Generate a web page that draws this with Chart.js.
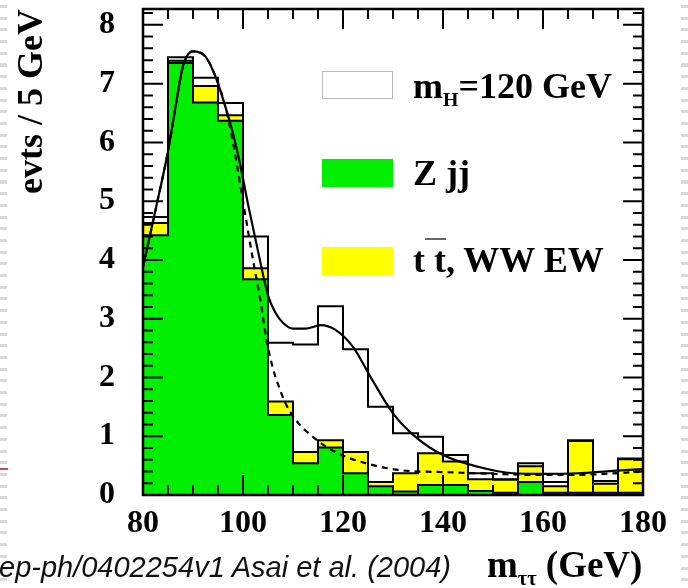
<!DOCTYPE html>
<html>
<head>
<meta charset="utf-8">
<title>m_tautau, evts / 5 GeV</title>
<script src="https://cdn.jsdelivr.net/npm/chart.js@4.4.1/dist/chart.umd.min.js"></script>
<style>
  html, body { margin: 0; padding: 0; background: #fff; }
  #page { position: relative; width: 688px; height: 588px; overflow: hidden; }
  #mass { position: absolute; left: 0; top: 0; }
  .rim { position: absolute; top: 0; width: 7px; height: 588px;
         background: repeating-linear-gradient(to bottom, transparent 0 5px, #dadada 5px 8px, transparent 8px 11.7px); }
  .lbl { position: absolute; white-space: nowrap; line-height: 1; color: #000;
         font-family: "Liberation Serif", "Times New Roman", serif; font-weight: bold; }
  .lbl sub { font-size: 0.55em; vertical-align: -0.38em; line-height: 0; }
  .box { position: absolute; left: 322px; width: 71px; height: 28px; box-sizing: border-box; }
  .bar { text-decoration: overline; text-decoration-thickness: 2px; text-decoration-color: #666; }
  .foot { position: absolute; left: -1px; top: 553px; white-space: nowrap; line-height: 1; color: #111;
          font-family: "Liberation Sans", Arial, sans-serif; font-style: italic; font-size: 29px; }
</style>
</head>
<body>
<div id="page">
  <div class="rim" style="left:0"></div>
  <div class="rim" style="left:681px"></div>
  <div style="position:absolute;left:0;top:468px;width:8px;height:1.5px;background:#c0504d"></div>
  <canvas id="mass" width="688" height="588"></canvas>

  <div class="box" style="top:71px;background:#fff;border:1.5px solid #bbb"></div>
  <div class="box" style="top:159px;background:#00ee00"></div>
  <div class="box" style="top:247px;background:#ffff00"></div>
  <div class="lbl" style="left:413px;top:68px;font-size:36px">m<sub>H</sub>=120 GeV</div>
  <div class="lbl" style="left:413px;top:155px;font-size:36px">Z jj</div>
  <div class="lbl" style="left:413px;top:242px;font-size:36px">t<span class="bar"> t</span>, WW EW</div>
  <div class="lbl" style="left:487px;top:546px;font-size:37px">m<sub>ττ</sub> (GeV)</div>
  <div class="foot">ep-ph/0402254v1 Asai et al. (2004)</div>
</div>

<script>
// @ts-check

// bin low edges in GeV (5 GeV bins), last bin closes at 180
const binEdges = [80, 85, 90, 95, 100, 105, 110, 115, 120, 125, 130, 135, 140, 145, 150, 155, 160, 165, 170, 175];
const lastEdge = 180;

// events per bin
const zjj = [4.42, 7.35, 6.68, 6.37, 3.67, 1.36, 0.54, 0.81, 0.37, 0.15, 0.06, 0.17, 0.17, 0.07, 0.04, 0.22, 0.04, 0.04, 0.04, 0.04];
const ttww = [0.21, 0.04, 0.28, 0.09, 0.19, 0.23, 0.19, 0.12, 0.36, 0.07, 0.31, 0.54, 0.40, 0.20, 0.22, 0.27, 0.11, 0.88, 0.15, 0.57];
const higgs = [0.10, 0.06, 0.14, 0.21, 0.54, 1.00, 1.83, 2.28, 1.75, 1.28, 0.68, 0.28, 0.11, 0.10, 0.01, 0.05, 0.07, 0.01, 0.05, 0.01];

// fitted curves: signal + background (solid) and background only (dashed)
const fitX = [80, 82.5, 85, 86.5, 88, 90, 92.5, 94.5, 96.5, 98, 99.5, 101, 103, 105, 106.5, 108, 110, 112.5, 115.5, 118.5, 122, 125.5, 130, 134.5, 140, 147, 154, 160, 167, 174, 180];
const fitTotal = [3.88, 4.85, 5.85, 6.6, 7.3, 7.55, 7.46, 7.12, 6.6, 6.15, 5.6, 4.95, 4.15, 3.4, 3.1, 2.93, 2.83, 2.83, 2.89, 2.81, 2.52, 2.01, 1.39, 0.99, 0.68, 0.48, 0.37, 0.36, 0.37, 0.41, 0.44];
const bkgX = [80, 82.5, 85, 86.5, 88, 90, 92.5, 94.5, 96.5, 98, 100, 102, 103.5, 104.8, 106, 107.2, 108.5, 111, 114, 116.6, 120.6, 124.6, 128.6, 133, 140, 150, 160, 170, 180];
const fitBkg = [3.88, 4.85, 5.85, 6.6, 7.3, 7.55, 7.46, 7.12, 6.6, 6.0, 5.0, 4.0, 3.3, 2.6, 2.15, 1.84, 1.56, 1.23, 0.99, 0.82, 0.65, 0.54, 0.46, 0.41, 0.39, 0.36, 0.34, 0.35, 0.40];

const xTicks = [80, 100, 120, 140, 160, 180];
const yTicks = [0, 1, 2, 3, 4, 5, 6, 7, 8];
const yTop = 8.27;

const serif = '"Liberation Serif", "Times New Roman", serif';

// stack the histograms like THStack does
const bkgTop = zjj.map((v, i) => v + ttww[i]);
const totTop = bkgTop.map((v, i) => v + higgs[i]);

// step histogram points: value held over [edge, next edge)
function stepData(values) {
  const pts = binEdges.map((x, i) => ({ x: x, y: values[i] }));
  pts.push({ x: lastEdge, y: values[values.length - 1] });
  return pts;
}

function curveData(xs, ys) {
  return xs.map((x, i) => ({ x: x, y: ys[i] }));
}

// frame with inward ticks on all four sides, ROOT style
const frameTicks = {
  id: 'frameTicks',
  afterDraw(chart) {
    const ctx = chart.ctx;
    const a = chart.chartArea;
    const x = chart.scales.x;
    const y = chart.scales.y;
    ctx.save();
    ctx.strokeStyle = '#000';
    ctx.lineWidth = 2;
    ctx.beginPath();
    for (let i = 0; i / 5 <= y.max; i++) {
      const py = y.getPixelForValue(i / 5);
      const len = i % 5 === 0 ? 20 : 10;
      ctx.moveTo(a.left, py); ctx.lineTo(a.left + len, py);
      ctx.moveTo(a.right, py); ctx.lineTo(a.right - len, py);
    }
    for (let v = x.min; v <= x.max; v += 5) {
      const px = x.getPixelForValue(v);
      const len = (v - x.min) % 20 === 0 ? 20 : 10;
      ctx.moveTo(px, a.bottom); ctx.lineTo(px, a.bottom - len);
      ctx.moveTo(px, a.top); ctx.lineTo(px, a.top + len);
    }
    ctx.stroke();
    ctx.lineWidth = 2.5;
    ctx.strokeRect(a.left, a.top, a.right - a.left, a.bottom - a.top);
    ctx.restore();
  }
};

const histStyle = { stepped: true, fill: 'origin', borderColor: '#000', borderWidth: 2, pointRadius: 0 };

new Chart(document.getElementById('mass'), {
  type: 'line',
  data: {
    datasets: [
      Object.assign({ label: 'mH=120 GeV', data: stepData(totTop), backgroundColor: '#ffffff', order: 5 }, histStyle),
      Object.assign({ label: 'tt, WW EW', data: stepData(bkgTop), backgroundColor: '#ffff00', order: 4 }, histStyle),
      Object.assign({ label: 'Z jj', data: stepData(zjj), backgroundColor: '#00ee00', order: 3 }, histStyle),
      {
        label: 'background fit',
        data: curveData(bkgX, fitBkg),
        borderColor: '#000',
        borderWidth: 2.2,
        borderDash: [6, 5],
        cubicInterpolationMode: 'monotone',
        pointRadius: 0,
        fill: false,
        order: 2
      },
      {
        label: 'total fit',
        data: curveData(fitX, fitTotal),
        borderColor: '#000',
        borderWidth: 2.2,
        cubicInterpolationMode: 'monotone',
        pointRadius: 0,
        fill: false,
        order: 1
      }
    ]
  },
  options: {
    responsive: false,
    animation: false,
    layout: { padding: { left: 0, right: 45, top: 9, bottom: 0 } },
    plugins: {
      legend: { display: false },
      tooltip: { enabled: false }
    },
    scales: {
      x: {
        type: 'linear',
        min: 80,
        max: 180,
        grid: { display: false, drawTicks: false },
        border: { display: false },
        afterBuildTicks: (s) => { s.ticks = xTicks.map(v => ({ value: v })); },
        afterFit: (s) => { s.height = 93; s.paddingLeft = 0; s.paddingRight = 0; },
        ticks: {
          color: '#000',
          padding: 10,
          maxRotation: 0,
          autoSkip: false,
          font: { family: serif, weight: 'bold', size: 32 }
        }
      },
      y: {
        type: 'linear',
        min: 0,
        max: yTop,
        grid: { display: false, drawTicks: false },
        border: { display: false },
        afterBuildTicks: (s) => { s.ticks = yTicks.map(v => ({ value: v })); },
        afterFit: (s) => { s.width = 143; s.paddingTop = 0; s.paddingBottom = 0; },
        ticks: {
          color: '#000',
          padding: 28,
          font: { family: serif, weight: 'bold', size: 32 }
        },
        title: {
          display: true,
          text: 'evts / 5 GeV',
          align: 'end',
          color: '#000',
          padding: { top: 11, bottom: 0 },
          font: { family: serif, weight: 'bold', size: 36 }
        }
      }
    }
  },
  plugins: [frameTicks]
});
</script>
</body>
</html>
